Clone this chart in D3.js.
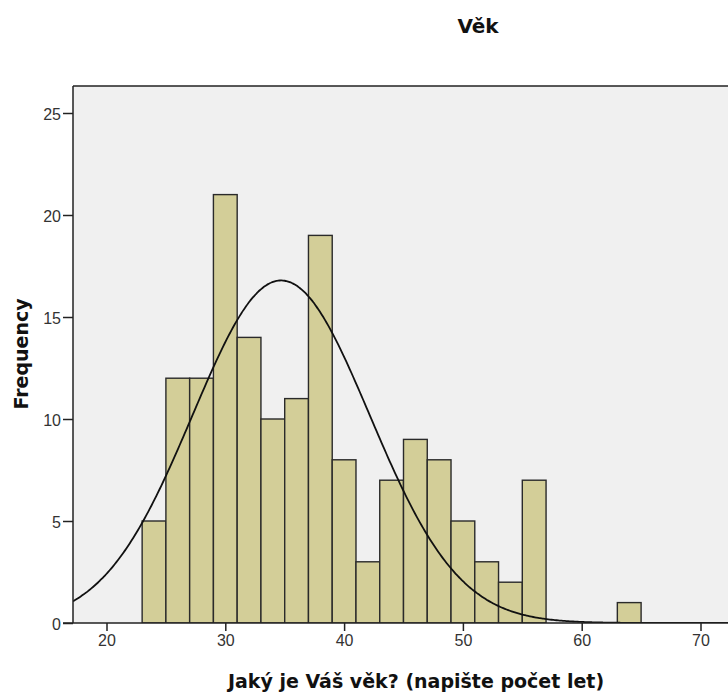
<!DOCTYPE html>
<html><head><meta charset="utf-8">
<script src="https://cdn.jsdelivr.net/npm/d3@7"></script>
<style>body{margin:0;background:#fff}svg{display:block;font-family:"Liberation Sans",Arial,sans-serif}</style>
</head><body>
<svg id="c" width="728" height="693"></svg>
<script>
const binStarts = [23,25,27,29,31,33,35,37,39,41,43,45,47,49,51,53,55,63];
const counts    = [5,12,12,21,14,10,11,19,8,3,7,9,8,5,3,2,7,1];
const binWidth = 2;
const xTicks = [20,30,40,50,60,70];
const yTicks = [0,5,10,15,20,25];
const fitMean = 34.7, fitSd = 7.46;
const N = d3.sum(counts);

const svg = d3.select("#c");
const L = 73, T = 86, R = 740, B = 623;
const x = d3.scaleLinear().domain([20,70]).range([106.5,700.5]);
const y = d3.scaleLinear().domain([0,25]).range([B,113]);

svg.append("defs").append("clipPath").attr("id","clp")
  .append("rect").attr("x",L).attr("y",T).attr("width",R-L).attr("height",B-T);

svg.append("rect").attr("x",L).attr("y",T).attr("width",R-L).attr("height",B-T).attr("fill","#f0f0f0");

const g = svg.append("g").attr("clip-path","url(#clp)");
g.selectAll("rect.bar").data(binStarts).enter().append("rect")
  .attr("class","bar")
  .attr("x",(d)=>x(d))
  .attr("width",(d)=>x(d+binWidth)-x(d))
  .attr("y",(d,i)=>y(counts[i]))
  .attr("height",(d,i)=>B-y(counts[i]))
  .attr("fill","#d3ce98").attr("stroke","#2a2a2a").attr("stroke-width",1.4);

const x0 = x.invert(L), x1 = x.invert(R);
const pts = d3.range(0,401).map(i=>{const v = x0+(x1-x0)*i/400;
  const dens = N*binWidth/(fitSd*Math.sqrt(2*Math.PI))*Math.exp(-0.5*((v-fitMean)/fitSd)**2);
  return [v,dens];});
g.append("path").datum(pts)
  .attr("d",d3.line().x(d=>x(d[0])).y(d=>y(d[1])).curve(d3.curveBasis))
  .attr("fill","none").attr("stroke","#111").attr("stroke-width",1.8);

// frame
svg.append("line").attr("x1",L).attr("x2",R).attr("y1",T).attr("y2",T).attr("stroke","#222").attr("stroke-width",1.5);

const yAx = svg.append("g").attr("transform",`translate(${L},0)`)
  .call(d3.axisLeft(y).tickValues(yTicks).tickSize(10).tickPadding(2));
yAx.select(".domain").attr("d",`M0,${T}V${B}`).attr("stroke","#222").attr("stroke-width",1.5);
yAx.selectAll(".tick line").attr("stroke","#222").attr("stroke-width",1.5);
yAx.selectAll("text").attr("font-size",16).attr("fill","#333").attr("dy","0.42em");

const xAx = svg.append("g").attr("transform",`translate(0,${B})`)
  .call(d3.axisBottom(x).tickValues(xTicks).tickSize(8).tickPadding(4));
xAx.select(".domain").attr("d",`M${L-10},0H${R}`).attr("stroke","#222").attr("stroke-width",1.5);
xAx.selectAll(".tick line").attr("stroke","#222").attr("stroke-width",1.5);
xAx.selectAll("text").attr("font-size",16).attr("fill","#333");

const bold = "'DejaVu Sans',Verdana,sans-serif";
svg.append("text").attr("x",478).attr("y",33).attr("text-anchor","middle").attr("font-family",bold)
  .attr("font-size",20).attr("font-weight","bold").attr("fill","#111").text("Věk");
svg.append("text").attr("transform","translate(28,354) rotate(-90)").attr("text-anchor","middle").attr("font-family",bold)
  .attr("font-size",19).attr("font-weight","bold").attr("fill","#111").text("Frequency");
svg.append("text").attr("x",416).attr("y",688).attr("text-anchor","middle").attr("font-family",bold)
  .attr("font-size",19).attr("font-weight","bold").attr("fill","#111").text("Jaký je Váš věk? (napište počet let)");
</script>
</body></html>
